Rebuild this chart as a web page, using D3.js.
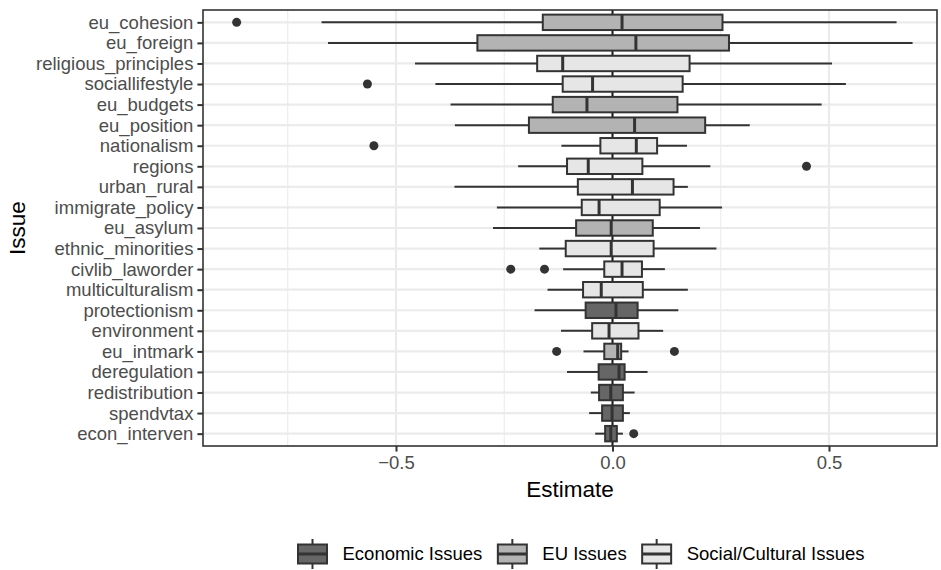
<!DOCTYPE html>
<html>
<head>
<meta charset="utf-8">
<script src="https://cdn.jsdelivr.net/npm/d3@7"></script>
<style>
  body { margin: 0; background: #fff; }
  text { font-family: "Liberation Sans", Arial, sans-serif; }
</style>
</head>
<body>
<div id="canvas"></div>
<script>
"use strict"

/***********************************
 CONFIGURATION
************************************/
let svgWidth = 941;
let svgHeight = 570;
let panel = { left: 203, right: 937, top: 10, bottom: 446 };
let fontSize = 18.5;

/***********************************
 DATA
************************************/
let issues = ["eu_cohesion", "eu_foreign", "religious_principles", "sociallifestyle",
    "eu_budgets", "eu_position", "nationalism", "regions", "urban_rural",
    "immigrate_policy", "eu_asylum", "ethnic_minorities", "civlib_laworder",
    "multiculturalism", "protectionism", "environment", "eu_intmark",
    "deregulation", "redistribution", "spendvtax", "econ_interven"];

let groups = ["EU Issues", "EU Issues", "Social/Cultural Issues", "Social/Cultural Issues",
    "EU Issues", "EU Issues", "Social/Cultural Issues", "Social/Cultural Issues", "Social/Cultural Issues",
    "Social/Cultural Issues", "EU Issues", "Social/Cultural Issues", "Social/Cultural Issues",
    "Social/Cultural Issues", "Economic Issues", "Social/Cultural Issues", "EU Issues",
    "Economic Issues", "Economic Issues", "Economic Issues", "Economic Issues"];

let whiskerLow = [-0.672, -0.657, -0.456, -0.409, -0.374, -0.364, -0.118, -0.218, -0.365,
    -0.267, -0.276, -0.169, -0.114, -0.150, -0.180, -0.119, -0.067, -0.105, -0.050, -0.054, -0.040];
let q1 = [-0.161, -0.312, -0.174, -0.115, -0.138, -0.193, -0.028, -0.105, -0.080,
    -0.071, -0.084, -0.108, -0.019, -0.068, -0.062, -0.047, -0.019, -0.032, -0.031, -0.024, -0.017];
let medians = [0.022, 0.054, -0.115, -0.046, -0.059, 0.051, 0.055, -0.056, 0.046,
    -0.031, -0.003, -0.003, 0.022, -0.026, 0.008, -0.008, 0.012, 0.015, -0.004, -0.001, -0.004];
let q3 = [0.254, 0.269, 0.178, 0.162, 0.150, 0.214, 0.103, 0.069, 0.141,
    0.109, 0.093, 0.095, 0.068, 0.070, 0.058, 0.060, 0.020, 0.028, 0.024, 0.024, 0.010];
let whiskerHigh = [0.656, 0.693, 0.507, 0.539, 0.483, 0.317, 0.172, 0.226, 0.174,
    0.253, 0.202, 0.240, 0.121, 0.174, 0.152, 0.117, 0.037, 0.081, 0.051, 0.040, 0.024];
let outliers = [[-0.868], [], [], [-0.566], [], [], [-0.551], [0.448], [],
    [], [], [], [-0.235, -0.157], [], [], [], [-0.129, 0.143], [], [], [], [0.049]];

let groupNames = ["Economic Issues", "EU Issues", "Social/Cultural Issues"];
let groupFills = ["#666666", "#b3b3b3", "#e6e6e6"];

let xTicks = [-0.5, 0, 0.5];
let xMinorTicks = [-0.75, -0.25, 0.25, 0.75];

let dataset = issues.map((d, i) => ({
    issue: d, group: groups[i], lo: whiskerLow[i], q1: q1[i], med: medians[i],
    q3: q3[i], hi: whiskerHigh[i], out: outliers[i]
}));

/***********************************
 SVG
************************************/
let svg = d3.select("#canvas")
    .append("svg")
    .attr("width", svgWidth)
    .attr("height", svgHeight);

svg.append("rect").attr("width", svgWidth).attr("height", svgHeight).attr("fill", "white");

/***********************************
 SCALES
************************************/
let xScale = d3.scaleLinear()
    .domain([-0.9457, 0.7494])
    .range([panel.left, panel.right]);

let yScale = d3.scalePoint()
    .domain(issues)
    .range([panel.top, panel.bottom])
    .padding(0.6);

let fillScale = d3.scaleOrdinal().domain(groupNames).range(groupFills);

let boxH = yScale.step() * 0.75;

/***********************************
 GRID
************************************/
let grid = svg.append("g");
grid.selectAll("line.minor")
    .data(xMinorTicks.filter(t => xScale(t) > panel.left && xScale(t) < panel.right))
    .join("line")
    .attr("x1", d => xScale(d)).attr("x2", d => xScale(d))
    .attr("y1", panel.top).attr("y2", panel.bottom)
    .attr("stroke", "#ebebeb").attr("stroke-width", 1.1);
grid.selectAll("line.majorx")
    .data(xTicks)
    .join("line")
    .attr("x1", d => xScale(d)).attr("x2", d => xScale(d))
    .attr("y1", panel.top).attr("y2", panel.bottom)
    .attr("stroke", "#ebebeb").attr("stroke-width", 2.2);
grid.selectAll("line.majory")
    .data(issues)
    .join("line")
    .attr("x1", panel.left).attr("x2", panel.right)
    .attr("y1", d => yScale(d)).attr("y2", d => yScale(d))
    .attr("stroke", "#ebebeb").attr("stroke-width", 2.2);

// zero reference line
svg.append("line")
    .attr("x1", xScale(0)).attr("x2", xScale(0))
    .attr("y1", panel.top).attr("y2", panel.bottom)
    .attr("stroke", "#1a1a1a").attr("stroke-width", 2);

/***********************************
 BOXPLOTS
************************************/
let boxes = svg.append("g").selectAll("g")
    .data(dataset)
    .join("g")
    .attr("transform", d => `translate(0, ${yScale(d.issue)})`);

boxes.append("line")
    .attr("x1", d => xScale(d.lo)).attr("x2", d => xScale(d.q1))
    .attr("stroke", "#333").attr("stroke-width", 2);
boxes.append("line")
    .attr("x1", d => xScale(d.q3)).attr("x2", d => xScale(d.hi))
    .attr("stroke", "#333").attr("stroke-width", 2);
boxes.append("rect")
    .attr("x", d => xScale(d.q1))
    .attr("width", d => xScale(d.q3) - xScale(d.q1))
    .attr("y", -boxH / 2).attr("height", boxH)
    .attr("fill", d => fillScale(d.group))
    .attr("stroke", "#333").attr("stroke-width", 2);
boxes.append("line")
    .attr("x1", d => xScale(d.med)).attr("x2", d => xScale(d.med))
    .attr("y1", -boxH / 2).attr("y2", boxH / 2)
    .attr("stroke", "#333").attr("stroke-width", 3);
boxes.selectAll("circle")
    .data(d => d.out)
    .join("circle")
    .attr("cx", d => xScale(d))
    .attr("r", 4.5)
    .attr("fill", "#333");

// panel border
svg.append("rect")
    .attr("x", panel.left).attr("y", panel.top)
    .attr("width", panel.right - panel.left).attr("height", panel.bottom - panel.top)
    .attr("fill", "none").attr("stroke", "#333").attr("stroke-width", 1.6);

/***********************************
 AXES
************************************/
let xAxis = svg.append("g")
    .attr("transform", `translate(0, ${panel.bottom})`)
    .call(d3.axisBottom(xScale).tickValues(xTicks).tickSize(5.6).tickPadding(4)
        .tickFormat(d => d === 0 ? "0.0" : d3.format(".1f")(d).replace("-", "\u2212")));
xAxis.select(".domain").remove();
xAxis.selectAll("line").attr("stroke", "#333").attr("stroke-width", 2);
xAxis.selectAll("text").attr("fill", "#4d4d4d").attr("font-size", fontSize)
    .attr("font-family", "Liberation Sans, Arial, sans-serif");

let yAxis = svg.append("g")
    .attr("transform", `translate(${panel.left}, 0)`)
    .call(d3.axisLeft(yScale).tickSize(5.6).tickPadding(4));
yAxis.select(".domain").remove();
yAxis.selectAll("line").attr("stroke", "#333").attr("stroke-width", 2);
yAxis.selectAll("text").attr("fill", "#4d4d4d").attr("font-size", fontSize)
    .attr("font-family", "Liberation Sans, Arial, sans-serif");

/***********************************
 AXIS TITLES
************************************/
svg.append("text")
    .attr("x", (panel.left + panel.right) / 2)
    .attr("y", 497)
    .attr("text-anchor", "middle")
    .attr("font-size", 22.5)
    .text("Estimate");

svg.append("text")
    .attr("transform", `translate(25, ${(panel.top + panel.bottom) / 2}) rotate(-90)`)
    .attr("text-anchor", "middle")
    .attr("font-size", 22.5)
    .text("Issue");

/***********************************
 LEGEND
************************************/
let keyW = 29;
let keyH = 30;
let legend = svg.append("g").attr("transform", "translate(0, 554)");
let cx = 312.5;
groupNames.forEach(name => {
    let key = legend.append("g").attr("transform", `translate(${cx}, 0)`);
    key.append("line")
        .attr("y1", -keyH / 2).attr("y2", keyH / 2)
        .attr("stroke", "#333").attr("stroke-width", 2);
    key.append("rect")
        .attr("x", -keyW / 2).attr("y", -9.5)
        .attr("width", keyW).attr("height", 19)
        .attr("fill", fillScale(name)).attr("stroke", "#333").attr("stroke-width", 2);
    key.append("line")
        .attr("x1", -keyW / 2).attr("x2", keyW / 2)
        .attr("stroke", "#333").attr("stroke-width", 3);
    let label = key.append("text")
        .attr("x", 30)
        .attr("y", 6.3)
        .attr("font-size", fontSize)
        .text(name);
    cx += 30 + label.node().getComputedTextLength() + 30;
});
</script>
</body>
</html>
